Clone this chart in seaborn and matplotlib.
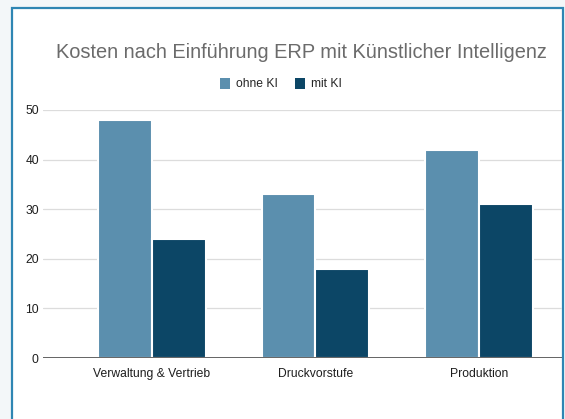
import matplotlib
matplotlib.use("Agg")
import matplotlib.pyplot as plt
import seaborn as sns
import pandas as pd
from matplotlib.patches import Rectangle, Patch

categories = ["Verwaltung & Vertrieb", "Druckvorstufe", "Produktion"]
series_names = ["ohne KI", "mit KI"]
ohne_ki = [48, 33, 42]
mit_ki = [24, 18, 31]
y_ticks = [0, 10, 20, 30, 40, 50]
title = "Kosten nach Einführung ERP mit Künstlicher Intelligenz"
colors = ["#5b8fae", "#0c4666"]

df = pd.DataFrame({
    "Bereich": categories * 2,
    "Serie": [series_names[0]] * 3 + [series_names[1]] * 3,
    "Wert": ohne_ki + mit_ki,
})

sns.set_theme(style="white")
plt.rcParams["font.family"] = ["Liberation Sans", "DejaVu Sans"]

fig = plt.figure(figsize=(5.65, 4.19), dpi=100)
fig.patch.set_facecolor("#f3f7f9")
card = Rectangle((12/565, -0.02), (563-12)/565, 1 - 8/419 + 0.02,
                 transform=fig.transFigure, facecolor="white",
                 edgecolor="#2f86b3", linewidth=1.6, zorder=-5)
fig.patches.append(card)

ax = fig.add_axes([43/565, 61/419, 519/565, 248/419])
ax.set_zorder(2)
ax.set_facecolor("none")
sns.barplot(data=df, x="Bereich", y="Wert", hue="Serie", palette=colors,
            width=0.66, ax=ax, edgecolor="white", linewidth=1.5, saturation=1,
            legend=False, zorder=3)

ax.set_xlim(-0.667, 2.508)
ax.set_ylim(0, 50)
ax.set_yticks(y_ticks)
ax.set_axisbelow(True)
ax.yaxis.grid(True, color="#dcdcdc", linewidth=0.9)
ax.xaxis.grid(False)
ax.axhline(0, color="#4a4a4a", linewidth=1.2, zorder=4)
for s in ax.spines.values():
    s.set_visible(False)
ax.tick_params(axis="both", length=0, labelsize=8.7, labelcolor="#1e1e1e")
ax.tick_params(axis="y", pad=3)
ax.tick_params(axis="x", pad=7)
ax.set_xlabel("")
ax.set_ylabel("")

fig.text(301/565, 1 - 53/419, title, ha="center", va="center",
         fontsize=14.4, color="#6b6b6b")

handles = [Patch(facecolor=c, edgecolor="none") for c in colors]
fig.legend(handles, series_names, loc="center", bbox_to_anchor=(281/565, 1 - 84/419),
           ncol=2, frameon=False, fontsize=8.7, handlelength=0.8, handleheight=1.0,
           handletextpad=0.5, columnspacing=1.4)

fig.savefig("out.png", dpi=100, facecolor=fig.get_facecolor())
